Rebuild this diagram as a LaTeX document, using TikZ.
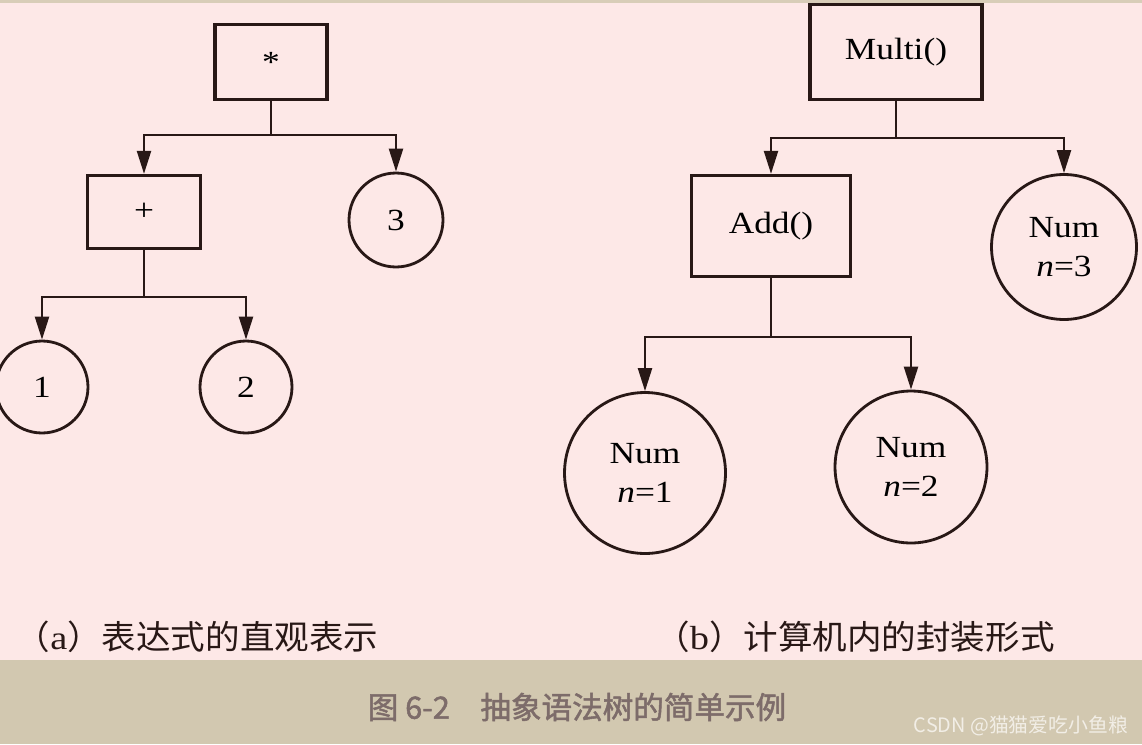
\documentclass[tikz,border=0pt]{standalone}
\usepackage{fontspec}
\setmainfont{Liberation Serif}[FakeStretch=1.15]
\newfontfamily\cjk{Noto Sans CJK SC}[FakeStretch=1.035]
\newfontfamily\cjkcap{Noto Sans CJK SC}[FakeBold=1.6]
\newfontfamily\cjkmark{Noto Sans CJK SC}
\usetikzlibrary{arrows.meta}

\definecolor{paper}{RGB}{253,232,231}
\definecolor{band}{RGB}{210,200,176}
\definecolor{ink}{RGB}{40,24,22}
\definecolor{captext}{RGB}{125,108,106}
\definecolor{wmark}{RGB}{242,238,230}

\tikzset{
    opbox/.style={draw=ink, line width=1.9pt, rectangle, inner sep=0pt,
        font=\fontsize{17.5}{20}\selectfont},
    numnode/.style={draw=ink, line width=1.6pt, circle, inner sep=0pt,
        align=center, font=\fontsize{17.5}{22.5}\selectfont},
    edge/.style={draw=ink, line width=1.3pt,
        -{Triangle[length=0.46cm, width=0.28cm]}},
    trunk/.style={draw=ink, line width=1.3pt},
    sublabel/.style={text=ink, font=\cjk\fontsize{19}{23}\selectfont},
}

\begin{document}
\begin{tikzpicture}[x=0.02cm, y=-0.02cm]
        % paper and caption band
        \fill[paper] (0, 0) rectangle (1142, 660);
        \fill[band] (0, 660) rectangle (1142, 744);
        \fill[band!85!paper] (0, 0) rectangle (1142, 3);
        \useasboundingbox (0, 0) rectangle (1142, 744);

        % (a) the expression as a tree
        \node[opbox, minimum width=2.24cm, minimum height=1.5cm] (star)
            at (271, 62) {*};
        \node[opbox, minimum width=2.26cm, minimum height=1.46cm] (plus)
            at (144, 212) {+};
        \node[numnode, minimum size=1.88cm] (three) at (396, 220) {3};
        \node[numnode, minimum size=1.84cm] (one) at (42, 387) {1};
        \node[numnode, minimum size=1.84cm] (two) at (246, 387) {2};

        \coordinate (forkstar) at (271, 135);
        \coordinate (forkplus) at (144, 297);
        \draw[trunk] (star) -- (forkstar);
        \foreach \kid in {plus, three}
            \draw[edge] (forkstar) -| (\kid);
        \draw[trunk] (plus) -- (forkplus);
        \foreach \kid in {one, two}
            \draw[edge] (forkplus) -| (\kid);

        % (b) the objects inside the machine
        \node[opbox, minimum width=3.44cm, minimum height=1.9cm] (multi)
            at (896, 52) {Multi()};
        \node[opbox, minimum width=3.18cm, minimum height=2.02cm] (add)
            at (771, 226) {Add()};
        \node[numnode, minimum size=2.9cm] (numthree) at (1064, 247)
            {Num\\\textit{n}=3};
        \node[numnode, minimum size=3.22cm] (numone) at (645, 473)
            {Num\\\textit{n}=1};
        \node[numnode, minimum size=3.04cm] (numtwo) at (911, 467)
            {Num\\\textit{n}=2};

        \coordinate (forkmulti) at (896, 138);
        \coordinate (forkadd) at (771, 337);
        \draw[trunk] (multi) -- (forkmulti);
        \foreach \kid in {add, numthree}
            \draw[edge] (forkmulti) -| (\kid);
        \draw[trunk] (add) -- (forkadd);
        \foreach \kid in {numone, numtwo}
            \draw[edge] (forkadd) -| (\kid);

        % sub captions
        \node[sublabel] (capa) at (197, 637)
            {（{\rmfamily a}）表达式的直观表示};
        \node[sublabel] (capb) at (855, 637)
            {（{\rmfamily b}）计算机内的封装形式};

        % figure caption and watermark
        \node[text=captext, font=\cjkcap\fontsize{17.4}{20}\selectfont] (figcap)
            at (577, 707) {图 6-2\hspace{1em}抽象语法树的简单示例};
        \node[text=wmark, font=\cjkmark\fontsize{11.3}{13}\selectfont] (wm)
            at (1021, 726) {CSDN @猫猫爱吃小鱼粮};
\end{tikzpicture}
\end{document}
